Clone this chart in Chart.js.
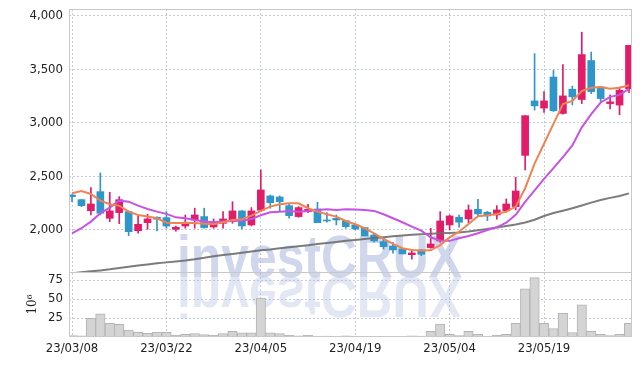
<!DOCTYPE html>
<html>
<head>
<meta charset="utf-8">
<script src="https://cdn.jsdelivr.net/npm/chart.js@4.4.0/dist/chart.umd.min.js"></script>
<style>
    html, body { margin: 0; padding: 0; background: #fff; }
    #wrap { width: 642px; height: 366px; }
</style>
</head>
<body>
<div id="wrap"><canvas id="myChart"></canvas></div>
<script>
// trading days
const dates = [
    '23/03/08', '23/03/09', '23/03/10', '23/03/13', '23/03/14', '23/03/15', '23/03/16', '23/03/17', '23/03/20', '23/03/21',
    '23/03/22', '23/03/23', '23/03/24', '23/03/27', '23/03/28', '23/03/29', '23/03/30', '23/03/31', '23/04/03', '23/04/04',
    '23/04/05', '23/04/06', '23/04/07', '23/04/10', '23/04/11', '23/04/12', '23/04/13', '23/04/14', '23/04/17', '23/04/18',
    '23/04/19', '23/04/20', '23/04/21', '23/04/24', '23/04/25', '23/04/26', '23/04/27', '23/04/28', '23/05/02', '23/05/03',
    '23/05/04', '23/05/08', '23/05/09', '23/05/10', '23/05/11', '23/05/12', '23/05/15', '23/05/16', '23/05/17', '23/05/18',
    '23/05/19', '23/05/22', '23/05/23', '23/05/24', '23/05/25', '23/05/26', '23/05/30', '23/05/31', '23/06/01', '23/06/02'
];
const xTickDates = ['23/03/08', '23/03/22', '23/04/05', '23/04/19', '23/05/04', '23/05/19'];
const priceTicks = [2000, 2500, 3000, 3500, 4000];
const volumeTicks = [25, 50, 75];

const open = [
    2327, 2283, 2180, 2358, 2109, 2162, 2171, 1993, 2068, 2119,
    2115, 2006, 2037, 2093, 2125, 2028, 2062, 2093, 2178, 2047,
    2184, 2318, 2308, 2227, 2125, 2171, 2196, 2093, 2109, 2087,
    2047, 2022, 1953, 1891, 1850, 1822, 1769, 1813, 1835, 1897,
    2047, 2119, 2103, 2193, 2165, 2140, 2178, 2218, 2697, 3206,
    3139, 3429, 3089, 3315, 3219, 3583, 3336, 3181, 3167, 3320
];
const high = [
    2330, 2285, 2395, 2533, 2352, 2311, 2178, 2140, 2147, 2122,
    2171, 2037, 2140, 2203, 2203, 2103, 2171, 2264, 2180, 2209,
    2561, 2327, 2318, 2240, 2218, 2240, 2259, 2162, 2140, 2090,
    2056, 2025, 1969, 1916, 1881, 1825, 1816, 1815, 2016, 2171,
    2140, 2140, 2234, 2287, 2174, 2227, 2290, 2492, 3068, 3648,
    3293, 3491, 3546, 3345, 3848, 3663, 3340, 3262, 3336, 3725
];
const low = [
    2264, 2218, 2140, 2140, 2078, 2059, 1947, 1969, 2006, 1991,
    2016, 1988, 2016, 2016, 2016, 2016, 2016, 2062, 2009, 2037,
    2171, 2203, 2178, 2109, 2118, 2162, 2068, 2072, 2047, 2016,
    2000, 1944, 1885, 1822, 1782, 1776, 1726, 1760, 1829, 1885,
    2000, 2025, 2068, 2125, 2087, 2100, 2168, 2187, 2560, 3120,
    3098, 3107, 3083, 3169, 3181, 3274, 3200, 3130, 3077, 3283
];
const close = [
    2311, 2227, 2243, 2156, 2178, 2283, 1984, 2053, 2103, 2100,
    2037, 2025, 2072, 2140, 2022, 2075, 2103, 2178, 2037, 2178,
    2374, 2255, 2264, 2134, 2209, 2193, 2068, 2084, 2093, 2031,
    2009, 1944, 1897, 1844, 1813, 1776, 1785, 1773, 1869, 2084,
    2131, 2072, 2187, 2150, 2131, 2187, 2243, 2364, 3068, 3160,
    3206, 3114, 3253, 3244, 3639, 3293, 3228, 3197, 3306, 3725
];
// volume, millions
const volume = [
    1.9, 1.4, 24.6, 30.4, 17.9, 16.6, 9.0, 6.3, 5.0, 6.3,
    6.3, 2.3, 3.6, 4.5, 3.2, 2.3, 4.5, 7.6, 5.4, 5.4,
    51.4, 5.4, 4.5, 2.3, 1.4, 2.3, 1.0, 1.2, 1.0, 1.5,
    0.8, 1.0, 1.0, 0.8, 0.6, 0.8, 1.5, 1.2, 7.6, 17.0,
    3.6, 1.8, 7.6, 3.6, 1.0, 2.3, 3.6, 17.9, 63.4, 78.2,
    17.9, 11.2, 31.3, 5.9, 42.4, 7.6, 3.6, 1.8, 3.6, 17.9
];
const ma5 = [
    2343, 2364, 2336, 2274, 2240, 2227, 2171, 2140, 2125, 2109,
    2068, 2065, 2065, 2065, 2059, 2053, 2072, 2093, 2100, 2134,
    2178, 2218, 2240, 2249, 2249, 2203, 2171, 2147, 2125, 2084,
    2053, 2016, 1969, 1916, 1869, 1829, 1813, 1807, 1810, 1858,
    1930, 1984, 2056, 2128, 2137, 2150, 2171, 2218, 2390, 2620,
    2806, 2991, 3176, 3206, 3299, 3330, 3336, 3320, 3330, 3352
];
const ma10 = [
    1969, 2016, 2078, 2156, 2209, 2274, 2264, 2227, 2196, 2171,
    2150, 2118, 2109, 2093, 2078, 2072, 2078, 2084, 2087, 2103,
    2137, 2165, 2171, 2178, 2171, 2178, 2187, 2193, 2187, 2193,
    2190, 2187, 2178, 2147, 2109, 2072, 2031, 1993, 1930, 1902,
    1898, 1922, 1944, 1969, 2000, 2025, 2068, 2142, 2262, 2369,
    2477, 2578, 2681, 2790, 2959, 3083, 3191, 3244, 3262, 3318
];
const ma60 = [
    1595, 1605, 1613, 1622, 1632, 1645, 1656, 1667, 1678, 1688,
    1697, 1706, 1715, 1727, 1740, 1755, 1766, 1776, 1787, 1798,
    1810, 1818, 1828, 1838, 1848, 1858, 1868, 1878, 1888, 1898,
    1907, 1916, 1924, 1932, 1940, 1948, 1955, 1960, 1964, 1968,
    1972, 1976, 1985, 1997, 2010, 2023, 2037, 2050, 2070, 2095,
    2130, 2158, 2180, 2203, 2228, 2255, 2280, 2300, 2318, 2342
];

const UP = '#e21c68';
const DOWN = '#2e96c8';
const candleColors = open.map((o, i) => close[i] >= o ? UP : DOWN);
const tickFont = {family: '"DejaVu Sans Condensed", "DejaVu Sans", sans-serif', size: 13};
const gridColor = '#c3c9de';

// y axes: fixed width, no label overflow padding
const fitLeftAxis = s => {
    s.width = 69;
    s.paddingTop = 0;
    s.paddingBottom = 0;
};

// watermark + panel frames
const decorations = {
    id: 'decorations',
    beforeDatasetsDraw(chart) {
        const ctx = chart.ctx;
        const area = chart.chartArea;
        ctx.save();
        ctx.beginPath();
        ctx.rect(area.left, area.top, area.right - area.left, area.bottom - area.top);
        ctx.clip();
        ctx.font = 'bold 60px "Liberation Sans", sans-serif';
        const text = 'investCRUX';
        const w = ctx.measureText(text).width;
        const sx = 285 / w;
        ctx.translate(177, 277);
        ctx.scale(sx, 1);
        ctx.fillStyle = 'rgba(176, 186, 222, 0.6)';
        ctx.fillText(text, 0, 0);
        ctx.scale(1, -0.95);
        ctx.fillStyle = 'rgba(176, 186, 222, 0.35)';
        ctx.fillText(text, 0, 0);
        ctx.restore();
    },
    afterDatasetsDraw(chart) {
        const ctx = chart.ctx;
        const area = chart.chartArea;
        const py = chart.scales.y;
        const vy = chart.scales.vol;
        ctx.save();
        ctx.strokeStyle = '#c8c8c8';
        ctx.lineWidth = 1;
        ctx.strokeRect(area.left + 0.5, py.top + 0.5, area.right - area.left - 1, py.bottom - py.top);
        ctx.strokeRect(area.left + 0.5, vy.top + 0.5, area.right - area.left - 1, vy.bottom - vy.top - 1);
        ctx.restore();
    }
};

const ctx = document.getElementById('myChart');

new Chart(ctx, {
    data: {
        datasets: [
            {
                type: 'line', label: 'MA5', data: ma5.map((v, i) => ({x: i, y: v})),
                borderColor: '#ef8352', borderWidth: 2, pointRadius: 0, yAxisID: 'y', order: 0
            },
            {
                type: 'line', label: 'MA10', data: ma10.map((v, i) => ({x: i, y: v})),
                borderColor: '#c653e6', borderWidth: 2, pointRadius: 0, yAxisID: 'y', order: 0
            },
            {
                type: 'line', label: 'MA60', data: ma60.map((v, i) => ({x: i, y: v})),
                borderColor: 'rgba(110, 110, 110, 0.9)', borderWidth: 2, pointRadius: 0, yAxisID: 'y', order: 0
            },
            {
                type: 'bar', label: 'body', data: open.map((o, i) => ({x: i, y: [o, close[i]]})),
                backgroundColor: candleColors, barThickness: 7, grouped: false, yAxisID: 'y', order: 1
            },
            {
                type: 'bar', label: 'wick', data: low.map((l, i) => ({x: i, y: [l, high[i]]})),
                backgroundColor: candleColors, barThickness: 1, grouped: false, yAxisID: 'y', order: 2
            },
            {
                type: 'bar', label: 'volume', data: volume.map((v, i) => ({x: i, y: v})),
                backgroundColor: '#d4d4d4', borderColor: '#b4b4b4', borderWidth: 1,
                barPercentage: 1, categoryPercentage: 1, grouped: false, yAxisID: 'vol', order: 3
            }
        ]
    },
    options: {
        responsive: true,
        maintainAspectRatio: false,
        animation: false,
        layout: {padding: {top: 9, right: 10, left: 0, bottom: 0}},
        plugins: {
            legend: {display: false},
            tooltip: {enabled: false}
        },
        scales: {
            x: {
                type: 'linear', position: 'bottom', min: -0.32, max: 59.32, offset: false,
                afterBuildTicks: s => { s.ticks = xTickDates.map(d => ({value: dates.indexOf(d)})); },
                afterFit: s => { s.height = 29; s.paddingLeft = 0; s.paddingRight = 0; },
                ticks: {
                    autoSkip: false, maxRotation: 0, padding: 4, color: '#222', font: tickFont,
                    callback: v => dates[v]
                },
                grid: {color: gridColor, drawTicks: false, offset: false},
                border: {display: false, dash: [2, 2]}
            },
            vol: {
                type: 'linear', position: 'left', stack: 'panes', stackWeight: 65,
                min: 0, max: 85.7,
                afterBuildTicks: s => { s.ticks = volumeTicks.map(v => ({value: v})); },
                afterFit: fitLeftAxis,
                ticks: {autoSkip: false, padding: 6, color: '#222', font: tickFont},
                title: {
                    display: true, text: '10⁶', color: '#222',
                    font: {family: '"DejaVu Serif", serif', size: 12},
                    padding: {top: 26, bottom: 0}
                },
                grid: {color: gridColor, drawTicks: false},
                border: {display: false, dash: [2, 2]}
            },
            y: {
                type: 'linear', position: 'left', stack: 'panes', stackWeight: 263,
                min: 1607, max: 4065,
                afterBuildTicks: s => { s.ticks = priceTicks.map(v => ({value: v})); },
                afterFit: fitLeftAxis,
                ticks: {
                    autoSkip: false, padding: 6, color: '#222', font: tickFont,
                    callback: v => v.toLocaleString('en-US')
                },
                grid: {color: gridColor, drawTicks: false},
                border: {display: false, dash: [2, 2]}
            }
        }
    },
    plugins: [decorations]
});
</script>
</body>
</html>
